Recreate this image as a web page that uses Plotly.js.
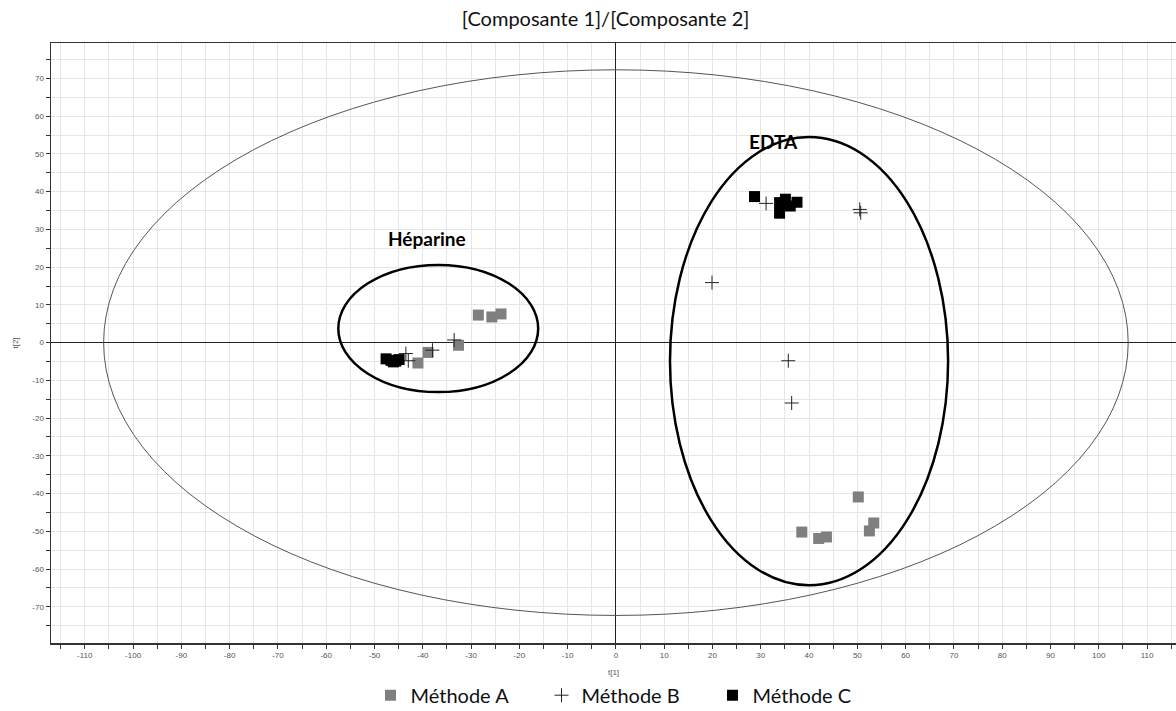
<!DOCTYPE html>
<html>
<head>
<meta charset="utf-8">
<script src="https://cdn.plot.ly/plotly-3.0.1.min.js"></script>
<style>html,body{margin:0;padding:0;background:#fff;}#chart{width:1176px;height:711px;}</style>
</head>
<body>
<div id="chart"></div>
<script>
// Méthode A (grey squares)
const methodA_x = [-28.5, -25.7, -23.8, -32.6, -38.9, -41.0, 50.2, 53.4, 52.5, 42.0, 43.6, 38.5];
const methodA_y = [7.3, 6.8, 7.6, -0.7, -2.6, -5.4, -40.9, -47.8, -49.9, -51.9, -51.5, -50.2];
// Méthode B (crosses)
const methodB_x = [-33.5, -38.0, -43.5, -43.0, 31.1, 50.5, 50.7, 19.9, 35.7, 36.4];
const methodB_y = [0.7, -2.0, -2.9, -4.8, 36.9, 35.3, 34.4, 15.9, -4.8, -16.0];
// Méthode C (black squares)
const methodC_x = [-47.6, -46.6, -45.6, -44.9, -46.1, 28.7, 35.1, 33.9, 37.5, 36.1, 33.9];
const methodC_y = [-4.3, -4.7, -4.9, -4.5, -5.1, 38.7, 38.0, 37.1, 37.2, 36.2, 34.3];

const seriesNames = ['Méthode A', 'Méthode B', 'Méthode C'];

// Hotelling T2 ellipse semi-axes (t[1], t[2])
const hotelling = {rx: 106.1, ry: 72.3};
// Group ellipses: [x0, x1, y0, y1]
const heparineBox = [-57.5, -16.1, -13.1, 20.6];
const edtaBox = [11.2, 68.8, -64.3, 54.5];
const groupLabels = ['Héparine', 'EDTA'];
const groupLabelPos = [[-39.1, 27.7], [32.6, 53.2]];

const xTicks = [-110, -100, -90, -80, -70, -60, -50, -40, -30, -20, -10, 0, 10, 20, 30, 40, 50, 60, 70, 80, 90, 100, 110];
const yTicks = [-70, -60, -50, -40, -30, -20, -10, 0, 10, 20, 30, 40, 50, 60, 70];

const traces = [
  {x: methodA_x, y: methodA_y, type: 'scatter', mode: 'markers', name: seriesNames[0],
   marker: {symbol: 'square', size: 11, color: '#7f7f7f'}},
  {x: methodB_x, y: methodB_y, type: 'scatter', mode: 'markers', name: seriesNames[1],
   marker: {symbol: 'cross-thin', size: 10, color: '#222', line: {color: '#222', width: 1}}},
  {x: methodC_x, y: methodC_y, type: 'scatter', mode: 'markers', name: seriesNames[2],
   marker: {symbol: 'square', size: 11, color: '#000'}}
];

const tickFont = {family: 'Liberation Sans, Arial, sans-serif', size: 8, color: '#555'};
const gridColor = '#e6e6e6';

const axisCommon = {
  showgrid: true, gridcolor: gridColor, gridwidth: 1,
  zeroline: true, zerolinecolor: '#222', zerolinewidth: 1,
  showline: true, linecolor: '#333', linewidth: 1.5,
  ticks: 'outside', ticklen: 4, tickcolor: '#333', tickwidth: 1,
  tickfont: tickFont,
  minor: {dtick: 5, ticks: 'outside', ticklen: 4, tickcolor: '#333', showgrid: true, gridcolor: gridColor, gridwidth: 1},
  tickmode: 'array'
};

const layout = {
  width: 1176, height: 711,
  margin: {l: 51, r: 0, t: 43, b: 68, autoexpand: false},
  paper_bgcolor: '#fff', plot_bgcolor: '#fff',
  font: {family: 'Lato, Liberation Sans, sans-serif', color: '#111'},
  title: {text: '[Composante 1]/[Composante 2]', x: 0.515, xref: 'container', xanchor: 'center',
          y: 0.973, yref: 'container', yanchor: 'middle',
          font: {family: 'Lato, Liberation Sans, sans-serif', size: 20, color: '#111'}},
  xaxis: Object.assign({}, axisCommon, {
    range: [-117, 116], tickvals: xTicks, ticktext: xTicks.map(String),
    mirror: true,
    title: {text: 't[1]', standoff: 10, font: {family: 'Liberation Sans, Arial, sans-serif', size: 8, color: '#555'}}
  }),
  yaxis: Object.assign({}, axisCommon, {
    range: [-79.6, 79.4], tickvals: yTicks, ticktext: yTicks.map(String),
    title: {text: 't[2]', standoff: 12, font: {family: 'Liberation Sans, Arial, sans-serif', size: 8, color: '#555'}}
  }),
  showlegend: true,
  legend: {orientation: 'h', x: 0.512, xanchor: 'center', y: -0.087, yanchor: 'middle',
           font: {family: 'Lato, Liberation Sans, sans-serif', size: 20, color: '#111'},
           itemwidth: 30, entrywidth: 126, entrywidthmode: 'pixels', tracegroupgap: 0},
  shapes: [
    {type: 'circle', xref: 'x', yref: 'y', x0: -hotelling.rx, x1: hotelling.rx, y0: -hotelling.ry, y1: hotelling.ry,
     line: {color: '#555', width: 1}, layer: 'above'},
    {type: 'circle', xref: 'x', yref: 'y', x0: heparineBox[0], x1: heparineBox[1], y0: heparineBox[2], y1: heparineBox[3],
     line: {color: '#000', width: 2.5}},
    {type: 'circle', xref: 'x', yref: 'y', x0: edtaBox[0], x1: edtaBox[1], y0: edtaBox[2], y1: edtaBox[3],
     line: {color: '#000', width: 2.5}}
  ],
  annotations: groupLabels.map((t, i) => ({
    x: groupLabelPos[i][0], y: groupLabelPos[i][1], xref: 'x', yref: 'y', text: '<b>' + t + '</b>',
    showarrow: false, font: {family: 'Lato, Liberation Sans, sans-serif', size: 19, color: '#000'}
  }))
};

Plotly.newPlot('chart', traces, layout, {displayModeBar: false, staticPlot: true});
</script>
</body>
</html>
